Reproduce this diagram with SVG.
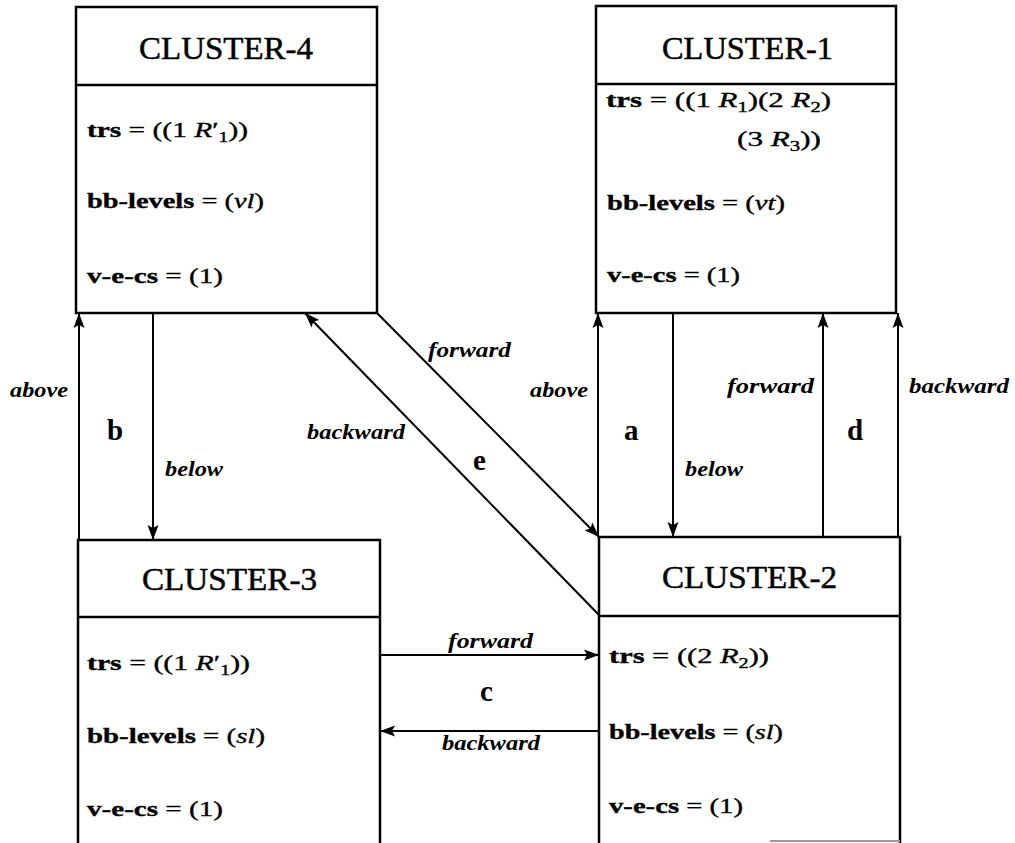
<svg xmlns="http://www.w3.org/2000/svg" width="1015" height="843" viewBox="0 0 1015 843">
  <style>
    .box { fill: #fff; stroke: #000; stroke-width: 2.5; }
    .sep { stroke: #000; stroke-width: 2.5; }
    .title { font-family: "Liberation Serif", "Times New Roman", serif; font-size: 32px; fill: #000; stroke: #000; stroke-width: 0.5; }
    .body { font-family: "Liberation Serif", "Times New Roman", serif; font-size: 21px; fill: #000; stroke: #000; stroke-width: 0.35; }
    .k { font-weight: bold; }
    .m { font-style: italic; }
    .sub { font-size: 14px; }
    .lbl { font-family: "Liberation Serif", "Times New Roman", serif; font-style: italic; font-weight: bold; font-size: 20px; fill: #000; }
    .tag { font-family: "Liberation Serif", "Times New Roman", serif; font-weight: bold; font-size: 29px; fill: #000; }
    .edge { stroke: #000; stroke-width: 2; fill: none; marker-end: url(#head); }
  </style>
  <defs>
    <marker id="head" markerUnits="userSpaceOnUse" markerWidth="16" markerHeight="12" refX="15" refY="6" orient="auto">
      <path d="M0,0.5 L15,6 L0,11.5 L3,6 z" fill="#000"/>
    </marker>
  </defs>

  <rect width="1015" height="843" fill="#fff"/>

  <!-- CLUSTER-4 -->
  <g id="cluster-4">
    <rect class="box" x="76" y="7" width="301" height="306"/>
    <line class="sep" x1="76" y1="85" x2="377" y2="85"/>
    <text class="title" x="139" y="59" textLength="174" lengthAdjust="spacingAndGlyphs">CLUSTER-4</text>
    <text class="body" x="87" y="137" textLength="161" lengthAdjust="spacingAndGlyphs"><tspan class="k">trs</tspan> = ((1 <tspan class="m">R</tspan>′<tspan class="sub" dy="5">1</tspan><tspan dy="-5">))</tspan></text>
    <text class="body" x="87" y="208" textLength="177" lengthAdjust="spacingAndGlyphs"><tspan class="k">bb-levels</tspan> = (<tspan class="m">vl</tspan>)</text>
    <text class="body" x="87" y="283" textLength="136" lengthAdjust="spacingAndGlyphs"><tspan class="k">v-e-cs</tspan> = (1)</text>
  </g>

  <!-- CLUSTER-1 -->
  <g id="cluster-1">
    <rect class="box" x="596" y="6" width="300" height="307"/>
    <line class="sep" x1="596" y1="84" x2="896" y2="84"/>
    <text class="title" x="662" y="59" textLength="171" lengthAdjust="spacingAndGlyphs">CLUSTER-1</text>
    <text class="body" x="606" y="107" textLength="225" lengthAdjust="spacingAndGlyphs"><tspan class="k">trs</tspan> = ((1 <tspan class="m">R</tspan><tspan class="sub" dy="5">1</tspan><tspan dy="-5">)(2 </tspan><tspan class="m">R</tspan><tspan class="sub" dy="5">2</tspan><tspan dy="-5">)</tspan></text>
    <text class="body" x="737" y="146" textLength="84" lengthAdjust="spacingAndGlyphs">(3 <tspan class="m">R</tspan><tspan class="sub" dy="5">3</tspan><tspan dy="-5">))</tspan></text>
    <text class="body" x="607" y="210" textLength="178" lengthAdjust="spacingAndGlyphs"><tspan class="k">bb-levels</tspan> = (<tspan class="m">vt</tspan>)</text>
    <text class="body" x="607" y="282" textLength="133" lengthAdjust="spacingAndGlyphs"><tspan class="k">v-e-cs</tspan> = (1)</text>
  </g>

  <!-- CLUSTER-3 -->
  <g id="cluster-3">
    <rect class="box" x="78" y="540" width="302" height="330"/>
    <line class="sep" x1="78" y1="617" x2="380" y2="617"/>
    <text class="title" x="142" y="590" textLength="175" lengthAdjust="spacingAndGlyphs">CLUSTER-3</text>
    <text class="body" x="87" y="670" textLength="163" lengthAdjust="spacingAndGlyphs"><tspan class="k">trs</tspan> = ((1 <tspan class="m">R</tspan>′<tspan class="sub" dy="5">1</tspan><tspan dy="-5">))</tspan></text>
    <text class="body" x="87" y="743" textLength="178" lengthAdjust="spacingAndGlyphs"><tspan class="k">bb-levels</tspan> = (<tspan class="m">sl</tspan>)</text>
    <text class="body" x="87" y="816" textLength="136" lengthAdjust="spacingAndGlyphs"><tspan class="k">v-e-cs</tspan> = (1)</text>
  </g>

  <!-- CLUSTER-2 -->
  <g id="cluster-2">
    <rect class="box" x="599" y="537" width="301" height="333"/>
    <line class="sep" x1="599" y1="616" x2="900" y2="616"/>
    <line x1="770" y1="841" x2="900" y2="841" stroke="#999" stroke-width="2"/>
    <text class="title" x="662" y="588" textLength="175" lengthAdjust="spacingAndGlyphs">CLUSTER-2</text>
    <text class="body" x="609" y="663" textLength="160" lengthAdjust="spacingAndGlyphs"><tspan class="k">trs</tspan> = ((2 <tspan class="m">R</tspan><tspan class="sub" dy="5">2</tspan><tspan dy="-5">))</tspan></text>
    <text class="body" x="609" y="739" textLength="174" lengthAdjust="spacingAndGlyphs"><tspan class="k">bb-levels</tspan> = (<tspan class="m">sl</tspan>)</text>
    <text class="body" x="609" y="813" textLength="134" lengthAdjust="spacingAndGlyphs"><tspan class="k">v-e-cs</tspan> = (1)</text>
  </g>

  <!-- connectors between clusters -->
  <g id="connectors">
    <!-- b: CLUSTER-3 / CLUSTER-4 -->
    <line class="edge" x1="79" y1="540" x2="79" y2="313"/>
    <line class="edge" x1="153" y1="313" x2="153" y2="540"/>
    <text class="lbl" x="10" y="397" textLength="58" lengthAdjust="spacingAndGlyphs">above</text>
    <text class="tag" x="107" y="440">b</text>
    <text class="lbl" x="165" y="476" textLength="58" lengthAdjust="spacingAndGlyphs">below</text>

    <!-- e: CLUSTER-4 / CLUSTER-2 -->
    <line class="edge" x1="377" y1="313" x2="599" y2="537"/>
    <line class="edge" x1="599" y1="615" x2="305" y2="313"/>
    <text class="lbl" x="428" y="357" textLength="83" lengthAdjust="spacingAndGlyphs">forward</text>
    <text class="lbl" x="307" y="439" textLength="98" lengthAdjust="spacingAndGlyphs">backward</text>
    <text class="tag" x="473" y="470">e</text>

    <!-- a: CLUSTER-2 / CLUSTER-1 -->
    <line class="edge" x1="598" y1="537" x2="598" y2="313"/>
    <line class="edge" x1="673" y1="313" x2="673" y2="537"/>
    <text class="lbl" x="530" y="397" textLength="58" lengthAdjust="spacingAndGlyphs">above</text>
    <text class="tag" x="624" y="440">a</text>
    <text class="lbl" x="685" y="476" textLength="58" lengthAdjust="spacingAndGlyphs">below</text>

    <!-- d: CLUSTER-2 / CLUSTER-1 -->
    <line class="edge" x1="823" y1="537" x2="823" y2="313"/>
    <line class="edge" x1="898" y1="537" x2="898" y2="313"/>
    <text class="lbl" x="727" y="393" textLength="87" lengthAdjust="spacingAndGlyphs">forward</text>
    <text class="tag" x="847" y="440">d</text>
    <text class="lbl" x="909" y="393" textLength="100" lengthAdjust="spacingAndGlyphs">backward</text>

    <!-- c: CLUSTER-3 / CLUSTER-2 -->
    <line class="edge" x1="380" y1="655" x2="599" y2="655"/>
    <line class="edge" x1="599" y1="731" x2="380" y2="731"/>
    <text class="lbl" x="448" y="648" textLength="85" lengthAdjust="spacingAndGlyphs">forward</text>
    <text class="tag" x="480" y="701">c</text>
    <text class="lbl" x="442" y="750" textLength="98" lengthAdjust="spacingAndGlyphs">backward</text>
  </g>
</svg>
